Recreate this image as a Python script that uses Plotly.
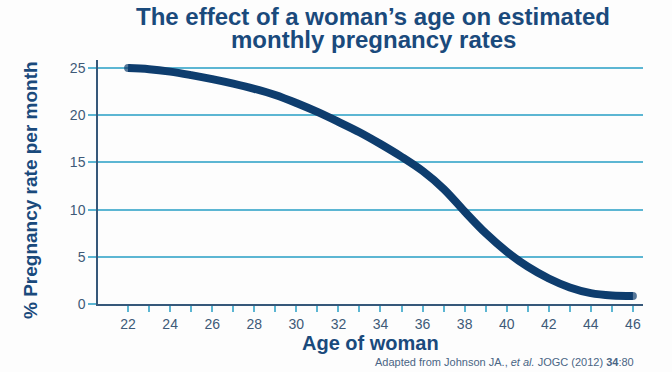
import plotly.graph_objects as go

# Data
ages = list(range(22, 47))
rates = [25.0, 24.88, 24.62, 24.25, 23.83, 23.35, 22.8, 22.15, 21.3, 20.35,
         19.3, 18.2, 16.95, 15.6, 14.1, 12.2, 9.8, 7.5, 5.55, 3.95,
         2.7, 1.75, 1.15, 0.9, 0.85]
x_tick_vals = list(range(22, 47))
x_tick_text = [str(a) if a % 2 == 0 else "" for a in x_tick_vals]
y_tick_vals = [0, 5, 10, 15, 20, 25]

title_line1 = "The effect of a woman’s age on estimated"
title_line2 = "monthly pregnancy rates"
x_title = "Age of woman"
y_title = "% Pregnancy rate per month"
credit = "Adapted from Johnson JA., <i>et al.</i> JOGC (2012) <b>34</b>:80"

NAVY = "#0e3d6e"
TITLE = "#1a4a7c"
GRID = "#5cb6d3"
AXIS = "#36587a"
TICKTXT = "#3e5a78"
FONT = "Liberation Sans, Arial, sans-serif"

fig = go.Figure()
fig.add_trace(go.Scatter(
    x=ages, y=rates, mode="lines",
    line=dict(color=NAVY, width=8, shape="spline", smoothing=1.0),
    hoverinfo="skip", showlegend=False,
))
# rounded end caps
cap_sizes = [8 if i in (0, len(ages) - 1) else 0 for i in range(len(ages))]
fig.add_trace(go.Scatter(
    x=ages, y=rates, mode="markers",
    marker=dict(color=NAVY, size=cap_sizes, line=dict(width=0)),
    hoverinfo="skip", showlegend=False,
))

fig.update_layout(
    width=672, height=372,
    margin=dict(l=98, r=29, t=60, b=68),
    paper_bgcolor="#fdfdfd", plot_bgcolor="#fdfdfd",
    font=dict(family=FONT, color=TICKTXT, size=13),
    showlegend=False,
    xaxis=dict(
        range=[20.57, 46.48],
        tickmode="array", tickvals=x_tick_vals, ticktext=x_tick_text,
        ticks="outside", ticklen=6, tickcolor=GRID, tickwidth=1.5,
        showline=True, linecolor=AXIS, linewidth=1.5,
        showgrid=False, zeroline=False,
        tickfont=dict(size=14, color=TICKTXT, family=FONT),
    ),
    yaxis=dict(
        range=[0, 25.85],
        tickmode="array", tickvals=y_tick_vals,
        ticks="outside", ticklen=8, tickcolor=GRID, tickwidth=1.5,
        showline=True, linecolor=AXIS, linewidth=1.5,
        showgrid=True, gridcolor=GRID, gridwidth=1.5,
        zeroline=False,
        tickfont=dict(size=14, color=TICKTXT, family=FONT),
    ),
    annotations=[
        dict(text=f"<b>{title_line1}</b>", xref="paper", yref="paper",
             x=(373 - 98) / 545, y=(304 - 16) / 244, xanchor="center", yanchor="middle",
             showarrow=False, font=dict(size=24, color=TITLE, family=FONT)),
        dict(text=f"<b>{title_line2}</b>", xref="paper", yref="paper",
             x=(373 - 98) / 545, y=(304 - 40) / 244, xanchor="center", yanchor="middle",
             showarrow=False, font=dict(size=24, color=TITLE, family=FONT)),
        dict(text=f"<b>{x_title}</b>", xref="paper", yref="paper",
             x=(370 - 98) / 545, y=(304 - 343) / 244, xanchor="center", yanchor="middle",
             showarrow=False, font=dict(size=20, color=TITLE, family=FONT)),
        dict(text=f"<b>{y_title}</b>", xref="paper", yref="paper",
             x=(30 - 98) / 545, y=(304 - 190) / 244, xanchor="center", yanchor="middle",
             textangle=-90,
             showarrow=False, font=dict(size=19, color=TITLE, family=FONT)),
        dict(text=credit, xref="paper", yref="paper",
             x=(636 - 98) / 545, y=(304 - 362) / 244, xanchor="right", yanchor="middle",
             showarrow=False, font=dict(size=11, color="#4a6585", family=FONT)),
    ],
)

fig.write_html("out.html", config={"displayModeBar": False},
               post_script="document.body.style.margin='0px';document.body.style.overflow='hidden';")
